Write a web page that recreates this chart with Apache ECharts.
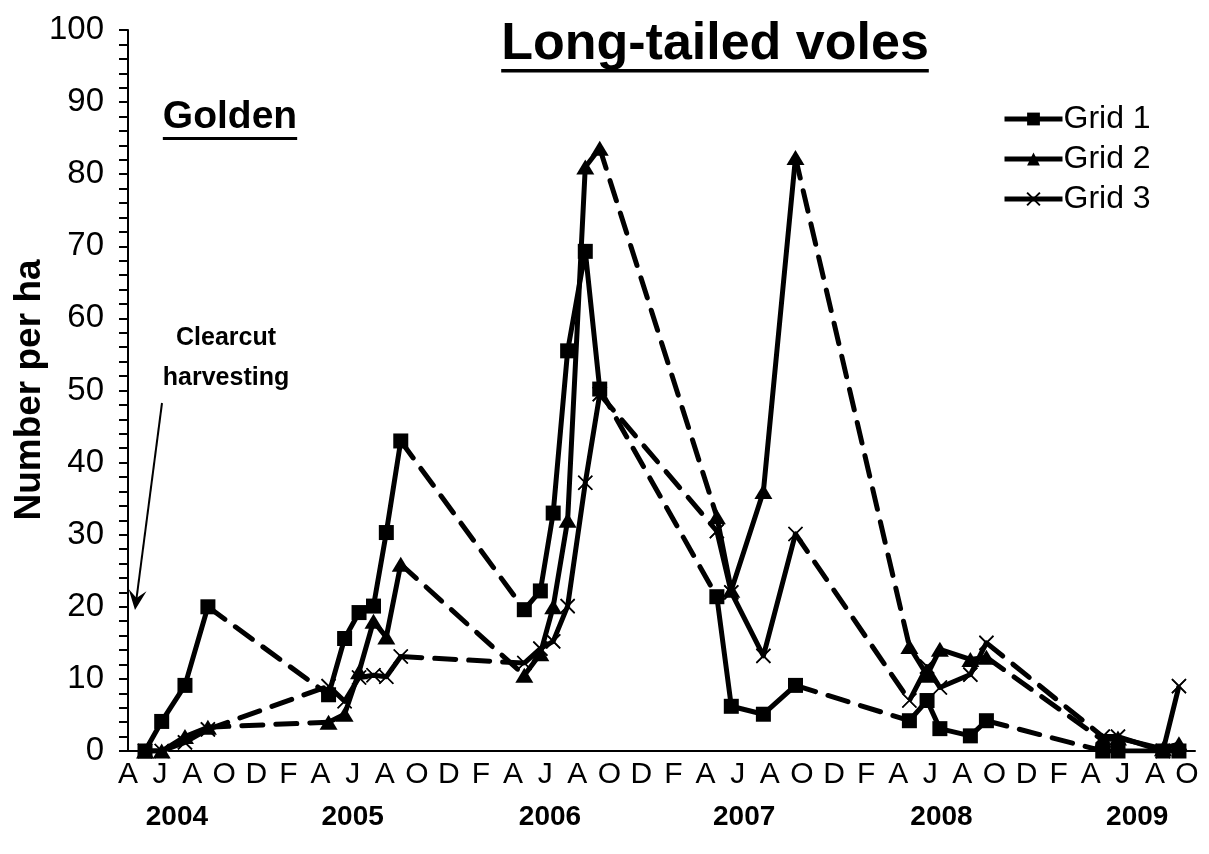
<!DOCTYPE html>
<html><head><meta charset="utf-8">
<script src="https://cdn.jsdelivr.net/npm/echarts@6/dist/echarts.min.js"></script>
<style>html,body{margin:0;padding:0;background:#fff}#c{width:1209px;height:854px}</style>
</head><body><div id="c"></div>
<script>
// x values are months counted from April 2004 (0 = April 2004)
const monthTickLabels = ['A','J','A','O','D','F'];
const yearLabels = ['2004','2005','2006','2007','2008','2009'];
const yearLabelMonths = [3.05, 14.0, 26.3, 38.4, 50.7, 62.9];

const grid1 = [
  [1.06,0],[2.1,4.1],[3.55,9.1],[4.98,20],
  [12.5,7.8],[13.5,15.6],[14.4,19.2],[15.3,20.1],[16.1,30.3],[17.0,43],
  [24.7,19.6],[25.7,22.2],[26.5,33],[27.4,55.5],[28.5,69.3],[29.4,50.2],
  [36.7,21.4],[37.6,6.2],[39.6,5.1],[41.6,9.1],
  [48.7,4.2],[49.8,7.0],[50.6,3.1],[52.5,2.1],[53.5,4.2],
  [60.75,0],[61.7,0],[64.5,0],[65.5,0]
];
const grid2 = [
  [1.06,0],[2.1,0],[3.55,2.0],[4.98,3.3],
  [12.5,4.0],[13.5,5.1],[14.4,11],[15.3,18],[16.1,15.8],[17.0,25.9],
  [24.7,10.5],[25.7,13.5],[26.5,20],[27.4,32],[28.5,81],[29.4,83.6],
  [36.7,32.5],[37.6,22.3],[39.6,36],[41.6,82.3],
  [48.7,14.5],[49.8,10.5],[50.6,14.1],[52.5,12.7],[53.5,13],
  [60.75,1.5],[61.7,1.8],[64.5,0.3],[65.5,1.0]
];
const grid3 = [
  [1.06,0],[2.1,0],[3.55,1.2],[4.98,3.0],
  [12.5,9.0],[13.5,6.9],[14.4,10.2],[15.3,10.5],[16.1,10.3],[17.0,13.1],
  [24.7,12.2],[25.7,14.2],[26.5,15.2],[27.4,20.1],[28.5,37.2],[29.4,49.5],
  [36.7,30.5],[37.6,22],[39.6,13.2],[41.6,30.1],
  [48.7,7.0],[49.8,11.7],[50.6,8.8],[52.5,10.6],[53.5,15],
  [60.75,2.0],[61.7,2.0],[64.5,0],[65.5,9.0]
];

const FONT = '"Liberation Sans", Arial, Helvetica, sans-serif';
const X_PATH = 'path://M0,0L10,10M10,0L0,10';

function season(m){ return Math.floor((m + 3) / 12); }
function solidData(d){
  const out = [];
  for (let i = 0; i < d.length; i++) {
    if (i > 0 && season(d[i][0]) !== season(d[i-1][0])) out.push([null, null]);
    out.push(d[i]);
  }
  return out;
}
function dashedData(d){
  const out = [];
  for (let i = 1; i < d.length; i++) {
    if (season(d[i][0]) !== season(d[i-1][0])) { out.push(d[i-1], d[i], [null, null]); }
  }
  return out;
}
const LW = 5;
function dashed(d){
  return {type:'line', data: dashedData(d), showSymbol:false, symbol:'none', silent:true,
    connectNulls:false, lineStyle:{color:'#000', width:LW, type:[21,13], cap:'round', join:'round'}};
}
function solid(name, d, symbol, size, itemStyle){
  return {type:'line', name, data: solidData(d), symbol, symbolSize:size, showSymbol:true, showAllSymbol:true,
    connectNulls:false, itemStyle, lineStyle:{color:'#000', width:LW, type:'solid', join:'round'},
    emphasis:{disabled:true}};
}

// measure text for underlines
const cv = document.createElement('canvas').getContext('2d');
function tw(txt, font){ cv.font = font; return cv.measureText(txt).width; }

const titleTxt = 'Long-tailed voles', titleFont = 'bold 52px ' + FONT;
const goldTxt = 'Golden', goldFont = 'bold 39px ' + FONT;
const tW = tw(titleTxt, titleFont), gW = tw(goldTxt, goldFont);
const tX = 715, tY = 44, gX = 230, gY = 118;

// arrow
const A0 = [162, 403], T = [135, 610];
const dx = T[0]-A0[0], dy = T[1]-A0[1], L = Math.hypot(dx, dy);
const ux = dx/L, uy = dy/L, px = -uy, py = ux;
const head = [
  T,
  [T[0]-20*ux+9*px, T[1]-20*uy+9*py],
  [T[0]-12*ux, T[1]-12*uy],
  [T[0]-20*ux-9*px, T[1]-20*uy-9*py]
];

const chart = echarts.init(document.getElementById('c'), null, {renderer:'canvas'});
chart.setOption({
  animation:false,
  backgroundColor:'#fff',
  grid:{left:128, right:14, top:30, bottom:103, containLabel:false, outerBoundsMode:'none'},
  legend:{data:['Grid 1','Grid 2','Grid 3'], orient:'vertical', left:1002, top:103, padding:0,
    itemWidth:58, itemHeight:16, itemGap:8, selectedMode:false,
    lineStyle:{width:5, color:'#000', type:'solid'},
    textStyle:{fontSize:32, color:'#000', fontFamily:FONT, padding:[0,0,0,-4]}},
  xAxis:[{
    type:'value', min:0, max:66.5, interval:2,
    axisLine:{show:true, onZero:false, lineStyle:{color:'#000', width:2}},
    axisTick:{show:false}, splitLine:{show:false},
    axisLabel:{fontSize:30, color:'#000', fontFamily:FONT, margin:9, showMaxLabel:false,
      formatter:v => (Math.abs(v - Math.round(v)) < 1e-6 && Math.round(v) % 2 === 0 && v <= 66) ? monthTickLabels[(Math.round(v)/2) % 6] : ''}
  },{
    type:'value', min:0, max:66.5, position:'bottom',
    axisLine:{show:false, onZero:false}, axisTick:{show:false, customValues:yearLabelMonths}, splitLine:{show:false},
    axisLabel:{customValues:yearLabelMonths, fontSize:28, fontWeight:'bold', color:'#000', fontFamily:FONT, margin:52,
      formatter:v => yearLabels[season(v)]}
  }],
  yAxis:{
    type:'value', min:0, max:100, interval:10,
    axisLine:{show:true, lineStyle:{color:'#000', width:2}},
    axisTick:{show:true, inside:false, length:9, lineStyle:{color:'#000', width:2}},
    minorTick:{show:true, splitNumber:5, length:9, lineStyle:{color:'#000', width:2}},
    splitLine:{show:false}, minorSplitLine:{show:false},
    axisLabel:{fontSize:33, color:'#000', fontFamily:FONT, margin:24}
  },
  series:[
    dashed(grid1),
    solid('Grid 1', grid1, 'rect', 15, {color:'#000'}),
    dashed(grid2),
    solid('Grid 2', grid2, 'triangle', [18,15], {color:'#000'}),
    dashed(grid3),
    solid('Grid 3', grid3, X_PATH, 14, {color:'none', borderColor:'#000', borderWidth:1.6}),
    {type:'scatter', data:grid3, symbol:'rect', symbolSize:13, silent:true, itemStyle:{color:'#fff'}},
    {type:'scatter', data:grid3, symbol:X_PATH, symbolSize:14, silent:true,
      itemStyle:{color:'none', borderColor:'#000', borderWidth:1.6}}
  ],
  graphic:[
    {type:'text', x:30, y:390, rotation:Math.PI/2,
      style:{text:'Number per ha', font:'bold 37px ' + FONT, fill:'#000', align:'center', verticalAlign:'middle'}},
    {type:'text', left:tX - tW/2, top:tY - 25, style:{text:titleTxt, font:titleFont, fill:'#000'}},
    {type:'rect', shape:{x:tX - tW/2, y:tY + 25, width:tW, height:3.5}, style:{fill:'#000'}},
    {type:'text', left:gX - gW/2, top:gY - 20, style:{text:goldTxt, font:goldFont, fill:'#000'}},
    {type:'rect', shape:{x:gX - gW/2, y:gY + 19, width:gW, height:3}, style:{fill:'#000'}},
    {type:'text', x:226, y:338, style:{text:'Clearcut', font:'bold 25px ' + FONT, fill:'#000', align:'center', verticalAlign:'middle'}},
    {type:'text', x:226, y:378, style:{text:'harvesting', font:'bold 25px ' + FONT, fill:'#000', align:'center', verticalAlign:'middle'}},
    {type:'line', shape:{x1:A0[0], y1:A0[1], x2:T[0]-12*ux, y2:T[1]-12*uy}, style:{stroke:'#000', lineWidth:2}},
    {type:'polygon', shape:{points:head}, style:{fill:'#000'}}
  ]
});
</script></body></html>
